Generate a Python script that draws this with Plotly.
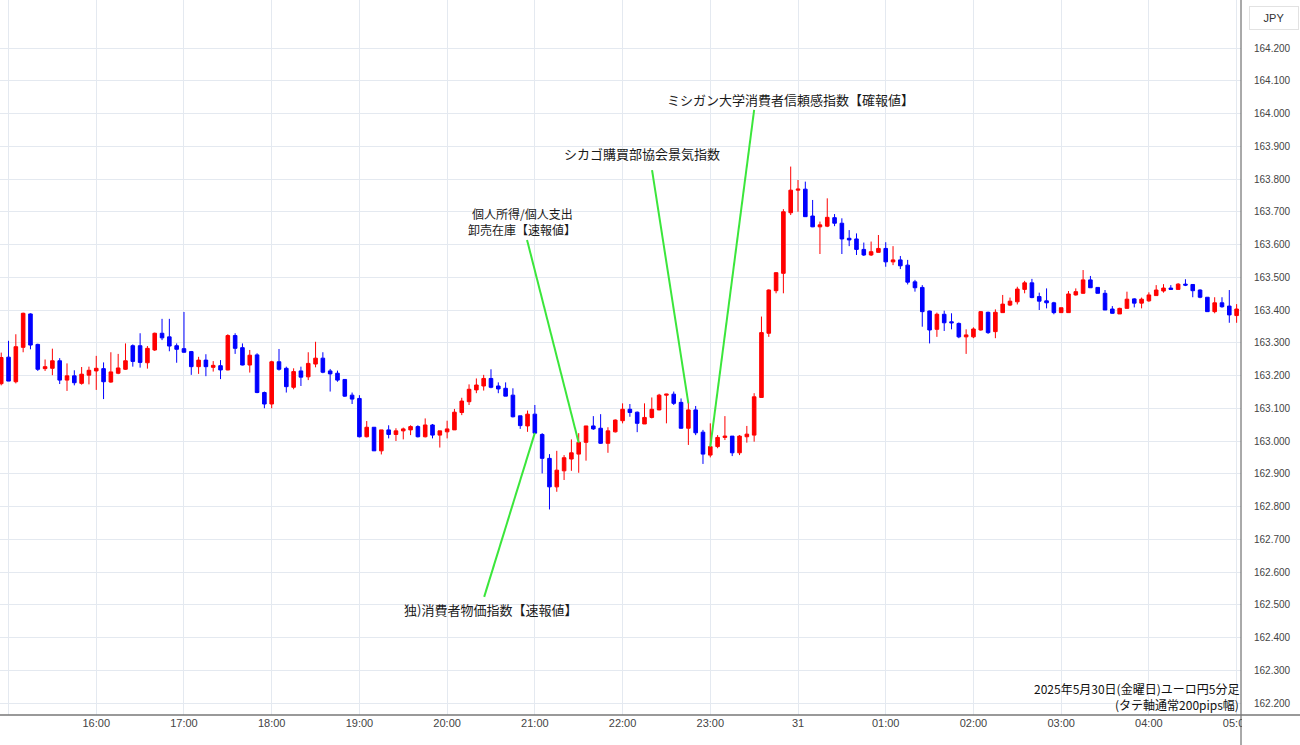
import pandas as pd
import plotly.graph_objects as go

# ---- data (EUR/JPY 5-minute candles, 2025-05-30 14:55 .. 2025-05-31 05:00) ----
start_time = "2025-05-30 14:55"

opens = [163.175,
 163.256, 163.181, 163.286, 163.388, 163.295, 163.221, 163.222, 163.245, 163.186, 163.199, 163.176, 163.201,
 163.214, 163.221, 163.180, 163.207, 163.219, 163.291, 163.291, 163.239, 163.278, 163.329, 163.318, 163.291,
 163.282, 163.273, 163.227, 163.247, 163.225, 163.230, 163.217, 163.322, 163.285, 163.232, 163.263, 163.148,
 163.113, 163.242, 163.222, 163.164, 163.214, 163.196, 163.235, 163.253, 163.214, 163.207, 163.188, 163.140,
 163.130, 163.013, 163.042, 162.970, 163.034, 163.020, 163.031, 163.034, 163.044, 163.013, 163.049, 163.018,
 163.028, 163.034, 163.087, 163.120, 163.156, 163.168, 163.191, 163.168, 163.161, 163.140, 163.077, 163.046,
 163.082, 163.020, 162.947, 162.860, 162.909, 162.945, 162.960, 162.996, 163.046, 163.039, 162.993, 163.028,
 163.062, 163.097, 163.088, 163.052, 163.072, 163.095, 163.140, 163.143, 163.118, 163.039, 163.095, 163.027,
 162.957, 162.983, 163.011, 163.015, 162.964, 163.013, 163.018, 163.133, 163.329, 163.459, 163.512, 163.697,
 163.766, 163.769, 163.687, 163.654, 163.656, 163.682, 163.665, 163.619, 163.617, 163.585, 163.568, 163.576,
 163.588, 163.547, 163.553, 163.537, 163.486, 163.469, 163.397, 163.341, 163.387, 163.364, 163.359, 163.318,
 163.318, 163.339, 163.393, 163.334, 163.392, 163.415, 163.425, 163.463, 163.483, 163.441, 163.428, 163.422,
 163.392, 163.392, 163.446, 163.451, 163.492, 163.469, 163.451, 163.403, 163.388, 163.405, 163.434, 163.421,
 163.428, 163.444, 163.458, 163.467, 163.463, 163.479, 163.478, 163.461, 163.439, 163.395, 163.422, 163.412,
 163.383]

highs = [163.270,
 163.306, 163.326, 163.392, 163.390, 163.297, 163.249, 163.282, 163.253, 163.237, 163.216, 163.226, 163.227,
 163.260, 163.240, 163.271, 163.266, 163.298, 163.295, 163.329, 163.290, 163.331, 163.373, 163.373, 163.298,
 163.394, 163.275, 163.257, 163.265, 163.244, 163.247, 163.326, 163.329, 163.298, 163.278, 163.268, 163.151,
 163.245, 163.281, 163.227, 163.222, 163.227, 163.271, 163.303, 163.271, 163.220, 163.215, 163.189, 163.148,
 163.140, 163.061, 163.042, 163.034, 163.048, 163.039, 163.041, 163.048, 163.048, 163.069, 163.052, 163.031,
 163.062, 163.098, 163.132, 163.173, 163.191, 163.202, 163.219, 163.179, 163.179, 163.161, 163.077, 163.093,
 163.110, 163.024, 162.960, 162.970, 162.957, 163.005, 163.024, 163.046, 163.076, 163.082, 163.042, 163.066,
 163.115, 163.113, 163.090, 163.115, 163.133, 163.144, 163.144, 163.151, 163.130, 163.120, 163.107, 163.034,
 163.054, 163.018, 163.076, 163.015, 163.018, 163.046, 163.146, 163.380, 163.463, 163.515, 163.708, 163.838,
 163.797, 163.792, 163.736, 163.670, 163.741, 163.693, 163.680, 163.644, 163.634, 163.606, 163.609, 163.629,
 163.607, 163.595, 163.565, 163.553, 163.492, 163.476, 163.398, 163.392, 163.398, 163.390, 163.362, 163.341,
 163.347, 163.397, 163.395, 163.402, 163.446, 163.438, 163.471, 163.489, 163.495, 163.453, 163.466, 163.425,
 163.407, 163.458, 163.466, 163.522, 163.504, 163.469, 163.461, 163.412, 163.407, 163.456, 163.436, 163.438,
 163.454, 163.476, 163.479, 163.476, 163.482, 163.494, 163.479, 163.463, 163.439, 163.439, 163.439, 163.461,
 163.418]

lows = [163.170,
 163.183, 163.176, 163.271, 163.280, 163.214, 163.214, 163.201, 163.174, 163.153, 163.170, 163.172, 163.173,
 163.156, 163.128, 163.178, 163.204, 163.217, 163.227, 163.224, 163.221, 163.275, 163.308, 163.274, 163.239,
 163.270, 163.202, 163.205, 163.198, 163.212, 163.189, 163.216, 163.266, 163.231, 163.209, 163.146, 163.100,
 163.100, 163.215, 163.148, 163.158, 163.168, 163.186, 163.225, 163.207, 163.151, 163.181, 163.135, 163.113,
 163.011, 163.011, 162.970, 162.959, 163.008, 163.000, 163.005, 163.018, 163.011, 163.011, 163.008, 162.980,
 163.008, 163.034, 163.079, 163.110, 163.146, 163.154, 163.161, 163.146, 163.137, 163.072, 163.037, 163.028,
 163.022, 162.901, 162.791, 162.845, 162.881, 162.909, 162.903, 162.940, 163.034, 162.991, 162.964, 163.026,
 163.054, 163.074, 163.027, 163.052, 163.069, 163.094, 163.054, 163.110, 163.038, 162.988, 163.018, 162.930,
 162.950, 162.978, 163.003, 162.954, 162.957, 162.995, 162.998, 163.133, 163.318, 163.451, 163.451, 163.690,
 163.700, 163.685, 163.653, 163.571, 163.653, 163.656, 163.571, 163.595, 163.568, 163.565, 163.565, 163.576,
 163.532, 163.537, 163.525, 163.478, 163.456, 163.349, 163.298, 163.318, 163.336, 163.341, 163.314, 163.266,
 163.314, 163.337, 163.327, 163.314, 163.392, 163.412, 163.417, 163.451, 163.436, 163.400, 163.405, 163.387,
 163.391, 163.392, 163.444, 163.450, 163.468, 163.451, 163.400, 163.389, 163.388, 163.405, 163.408, 163.405,
 163.425, 163.444, 163.453, 163.463, 163.463, 163.473, 163.439, 163.436, 163.395, 163.390, 163.407, 163.361,
 163.361]

closes = [163.255,
 163.183, 163.288, 163.390, 163.293, 163.219, 163.227, 163.245, 163.186, 163.199, 163.178, 163.204, 163.216,
 163.222, 163.181, 163.211, 163.223, 163.245, 163.243, 163.240, 163.283, 163.329, 163.315, 163.290, 163.280,
 163.271, 163.227, 163.247, 163.227, 163.231, 163.217, 163.322, 163.283, 163.232, 163.262, 163.148, 163.113,
 163.242, 163.219, 163.166, 163.212, 163.195, 163.237, 163.253, 163.210, 163.205, 163.186, 163.137, 163.128,
 163.013, 163.042, 162.970, 163.034, 163.020, 163.031, 163.037, 163.044, 163.013, 163.049, 163.018, 163.031,
 163.037, 163.088, 163.122, 163.158, 163.171, 163.191, 163.164, 163.159, 163.137, 163.074, 163.047, 163.082,
 163.024, 162.947, 162.860, 162.911, 162.949, 162.964, 162.996, 163.046, 163.037, 162.993, 163.031, 163.064,
 163.097, 163.087, 163.054, 163.072, 163.097, 163.140, 163.143, 163.115, 163.039, 163.095, 163.025, 162.960,
 162.983, 163.011, 163.015, 162.964, 163.015, 163.021, 163.135, 163.331, 163.461, 163.514, 163.700, 163.766,
 163.769, 163.685, 163.654, 163.660, 163.683, 163.665, 163.617, 163.614, 163.585, 163.568, 163.578, 163.588,
 163.547, 163.553, 163.535, 163.485, 163.468, 163.395, 163.339, 163.387, 163.361, 163.361, 163.318, 163.324,
 163.342, 163.395, 163.331, 163.393, 163.418, 163.427, 163.464, 163.483, 163.438, 163.427, 163.422, 163.392,
 163.407, 163.449, 163.456, 163.492, 163.468, 163.451, 163.400, 163.390, 163.405, 163.433, 163.421, 163.433,
 163.446, 163.461, 163.467, 163.463, 163.479, 163.476, 163.459, 163.439, 163.395, 163.422, 163.410, 163.385,
 163.403]

# x-axis hour ticks
tick_times = ["2025-05-30 15:00", "2025-05-30 16:00", "2025-05-30 17:00", "2025-05-30 18:00",
              "2025-05-30 19:00", "2025-05-30 20:00", "2025-05-30 21:00", "2025-05-30 22:00",
              "2025-05-30 23:00", "2025-05-31 00:00", "2025-05-31 01:00", "2025-05-31 02:00",
              "2025-05-31 03:00", "2025-05-31 04:00", "2025-05-31 05:00"]
tick_labels = ["15:00", "16:00", "17:00", "18:00", "19:00", "20:00", "21:00", "22:00",
               "23:00", "31", "01:00", "02:00", "03:00", "04:00", "05:00"]

y_ticks = [162.2, 162.3, 162.4, 162.5, 162.6, 162.7, 162.8, 162.9, 163.0, 163.1,
           163.2, 163.3, 163.4, 163.5, 163.6, 163.7, 163.8, 163.9, 164.0, 164.1, 164.2]

# economic events: label lines, release candle time, price pointed at
event_labels = [["独)消費者物価指数【速報値】"],
                ["個人所得/個人支出", "卸売在庫【速報値】"],
                ["シカゴ購買部協会景気指数"],
                ["ミシガン大学消費者信頼感指数【確報値】"]]
event_times = ["2025-05-30 21:00", "2025-05-30 21:30", "2025-05-30 22:45", "2025-05-30 23:00"]
event_prices = [163.025, 162.995, 163.115, 162.982]

# label placement (layout only)
label_line_start_t = ["2025-05-30 20:25:20", "2025-05-30 20:54:40", "2025-05-30 22:20:10", "2025-05-30 23:30:00"]
label_line_start_p = [162.524, 163.614, 163.827, 164.011]
label_text_t = ["2025-05-30 20:29:20", "2025-05-30 20:51:20", "2025-05-30 22:13:30", "2025-05-30 23:54:40"]
label_text_p = [[162.487], [163.695, 163.646], [163.879], [164.044]]

caption_lines = ["2025年5月30日(金曜日)ユーロ円5分足", "(タテ軸通常200pips幅)"]

times = pd.date_range(start=start_time, periods=len(opens), freq="5min")

fig = go.Figure()
fig.add_trace(go.Candlestick(
    x=times, open=opens, high=highs, low=lows, close=closes,
    increasing=dict(line=dict(color="#ff0000", width=1), fillcolor="#ff0000"),
    decreasing=dict(line=dict(color="#0000ff", width=1), fillcolor="#0000ff"),
    whiskerwidth=0, hoverinfo="skip", showlegend=False,
))

GREEN = "#3be63b"
for lines, et, ep, st, sp, tt, tps in zip(event_labels, event_times, event_prices,
                                          label_line_start_t, label_line_start_p,
                                          label_text_t, label_text_p):
    fig.add_shape(type="line", xref="x", yref="y", x0=st, y0=sp, x1=et, y1=ep,
                  line=dict(color=GREEN, width=2), layer="above")
    fs = 12 if len(lines) > 1 else 13
    for txt, tp in zip(lines, tps):
        fig.add_annotation(x=tt, y=tp, xref="x", yref="y", text=txt, showarrow=False,
                           font=dict(family="Noto Sans CJK JP", size=fs, color="#1a1a1a"),
                           xanchor="center", yanchor="middle", borderpad=0)

# chart caption bottom-right
cap_y = [0.0372, 0.0140]
for txt, cy in zip(caption_lines, cap_y):
    fig.add_annotation(x=0.9995, y=cy, xref="paper", yref="paper", xanchor="right", yanchor="middle",
                       text=txt, showarrow=False, borderpad=0,
                       font=dict(family="Noto Sans CJK JP", size=12, color="#111111"))

# currency box
fig.add_annotation(x=1.0262, y=0.9748, xref="paper", yref="paper", xanchor="center", yanchor="middle",
                   text="JPY", showarrow=False, width=46, height=20,
                   font=dict(family="Liberation Sans", size=11, color="#333333"),
                   bordercolor="#e2e2e2", borderwidth=1, bgcolor="white")

# cover the part of the last time label that falls under the price scale
fig.add_shape(type="rect", xref="paper", yref="paper", x0=1.0008, x1=1.06, y0=-0.044, y1=-0.002,
              fillcolor="white", line=dict(width=0), layer="above")

# axis frame lines
fig.add_shape(type="line", xref="paper", yref="paper", x0=1, x1=1, y0=-0.045, y1=1,
              line=dict(color="#555555", width=1), layer="above")
fig.add_shape(type="line", xref="paper", yref="paper", x0=0, x1=1.05, y0=0, y1=0,
              line=dict(color="#777777", width=1.5), layer="above")

fig.update_layout(
    width=1300, height=745,
    margin=dict(l=0, r=59, t=0, b=30),
    paper_bgcolor="white", plot_bgcolor="white",
    template="none",
    hovermode=False,
    xaxis=dict(
        type="date",
        range=["2025-05-30 14:54:10", "2025-05-31 05:03:00"],
        tickvals=tick_times, ticktext=tick_labels,
        showgrid=True, gridcolor="#e4e9f0", gridwidth=1,
        zeroline=False, showline=False, ticks="",
        tickfont=dict(family="Liberation Sans Narrow, Liberation Sans", size=11, color="#444444"),
        rangeslider=dict(visible=False), automargin=False, fixedrange=True,
    ),
    yaxis=dict(
        side="right",
        range=[162.1634, 164.3466],
        tickvals=y_ticks, ticktext=[f"{v:.3f}" for v in y_ticks],
        showgrid=True, gridcolor="#e4e9f0", gridwidth=1,
        zeroline=False, showline=False, ticks="",
        ticklabelstandoff=12,
        tickfont=dict(family="Liberation Sans", size=10, color="#444444"),
        automargin=False, fixedrange=True,
    ),
)

fig.write_html("out.html", config={"displayModeBar": False},
               post_script="document.body.style.margin='0px';document.body.style.padding='0px';")
